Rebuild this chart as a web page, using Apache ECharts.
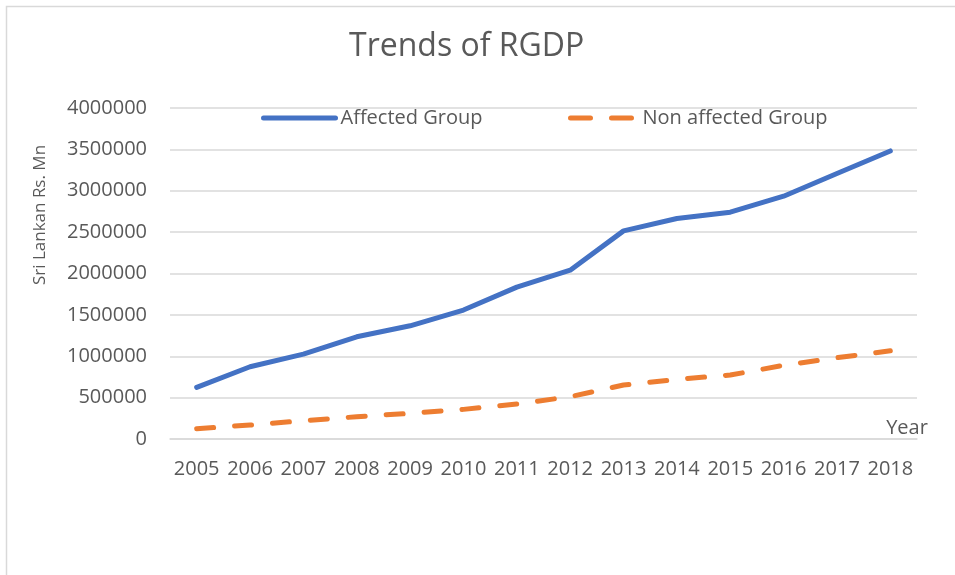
<!DOCTYPE html>
<html lang="en">
<head>
    <meta charset="utf-8">
    <title>Trends of RGDP</title>
    <style>
        * {
            margin: 0;
            padding: 0;
        }

        .chart-container {
            position: relative;
            width: 955px;
            height: 575px;
            overflow: hidden;
            background: #ffffff;
        }
    </style>
</head>
<body>
<div id="chart" class="chart-container"></div>
<script src="https://cdn.jsdelivr.net/npm/echarts@6/dist/echarts.min.js"></script>
<script>
    // years on the x axis
    const years = ['2005', '2006', '2007', '2008', '2009', '2010', '2011',
        '2012', '2013', '2014', '2015', '2016', '2017', '2018'];
    // RGDP, Sri Lankan Rs. Mn
    const affected = [624000, 873000, 1026000, 1235000, 1368000, 1558000, 1835000,
        2040000, 2515000, 2665000, 2741000, 2934000, 3208000, 3481000];
    const nonAffected = [124000, 169000, 221000, 269000, 310000, 358000, 423000,
        511000, 652000, 721000, 773000, 890000, 982000, 1066000];

    const font = '"Open Sans", "DejaVu Sans", sans-serif';
    const grey = '#595959';
    const blue = '#4472C4';
    const orange = '#ED7D31';

    const myChart = echarts.init(document.getElementById('chart'), null, {
        renderer: 'canvas'
    });

    const legendText = {fontFamily: font, fontSize: 20, color: grey};
    // hide the legend marker, keep only the line
    const noMarker = {color: 'transparent', borderWidth: 0, opacity: 0};

    const option = {
        animation: false,
        textStyle: {
            fontFamily: font,
            color: grey
        },
        title: {
            text: 'Trends of RGDP',
            left: 344,
            top: 26,
            textStyle: {
                fontFamily: font,
                fontWeight: 'normal',
                fontSize: 32,
                color: grey
            }
        },
        legend: [
            {
                data: ['Affected Group'],
                left: 256,
                top: 103,
                itemWidth: 72,
                itemHeight: 14,
                itemStyle: noMarker,
                lineStyle: {width: 5, color: blue, cap: 'round'},
                textStyle: legendText
            },
            {
                data: ['Non affected Group'],
                left: 563,
                top: 103,
                itemWidth: 67,
                itemHeight: 14,
                itemStyle: noMarker,
                lineStyle: {width: 5, color: orange, type: [20, 21], cap: 'round'},
                textStyle: legendText
            }
        ],
        grid: {
            left: 170,
            right: 38,
            top: 108,
            bottom: 136,
            containLabel: false
        },
        xAxis: {
            type: 'category',
            data: years,
            boundaryGap: true,
            axisLine: {lineStyle: {color: '#d9d9d9', width: 1.5}},
            axisTick: {show: false},
            axisLabel: {
                fontFamily: font,
                fontSize: 20,
                color: grey,
                margin: 20,
                interval: 0
            }
        },
        yAxis: {
            type: 'value',
            min: 0,
            max: 4000000,
            interval: 500000,
            axisLine: {show: false},
            axisTick: {show: false},
            axisLabel: {
                fontFamily: font,
                fontSize: 20,
                color: grey,
                margin: 23,
                formatter: function (v) {
                    return String(v);
                }
            },
            splitLine: {lineStyle: {color: '#d9d9d9', width: 1.5}}
        },
        graphic: [
            {
                type: 'rect',
                shape: {x: 6.5, y: 6.5, width: 1200, height: 1200},
                style: {fill: 'none', stroke: '#d9d9d9', lineWidth: 1.5},
                silent: true
            },
            {
                type: 'text',
                x: 40,
                y: 215,
                rotation: Math.PI / 2,
                style: {
                    text: 'Sri Lankan Rs. Mn',
                    fontFamily: font,
                    fontSize: 17,
                    fill: grey,
                    align: 'center',
                    verticalAlign: 'middle'
                }
            },
            {
                type: 'text',
                x: 907,
                y: 428,
                style: {
                    text: 'Year',
                    fontFamily: font,
                    fontSize: 20,
                    fill: grey,
                    align: 'center',
                    verticalAlign: 'middle'
                }
            }
        ],
        series: [
            {
                name: 'Affected Group',
                type: 'line',
                data: affected,
                symbol: 'none',
                color: blue,
                lineStyle: {width: 5, color: blue, cap: 'round', join: 'round'}
            },
            {
                name: 'Non affected Group',
                type: 'line',
                data: nonAffected,
                symbol: 'none',
                color: orange,
                lineStyle: {width: 5, color: orange, type: [17, 21], cap: 'round', join: 'round'}
            }
        ]
    };

    myChart.setOption(option);
</script>
</body>
</html>
